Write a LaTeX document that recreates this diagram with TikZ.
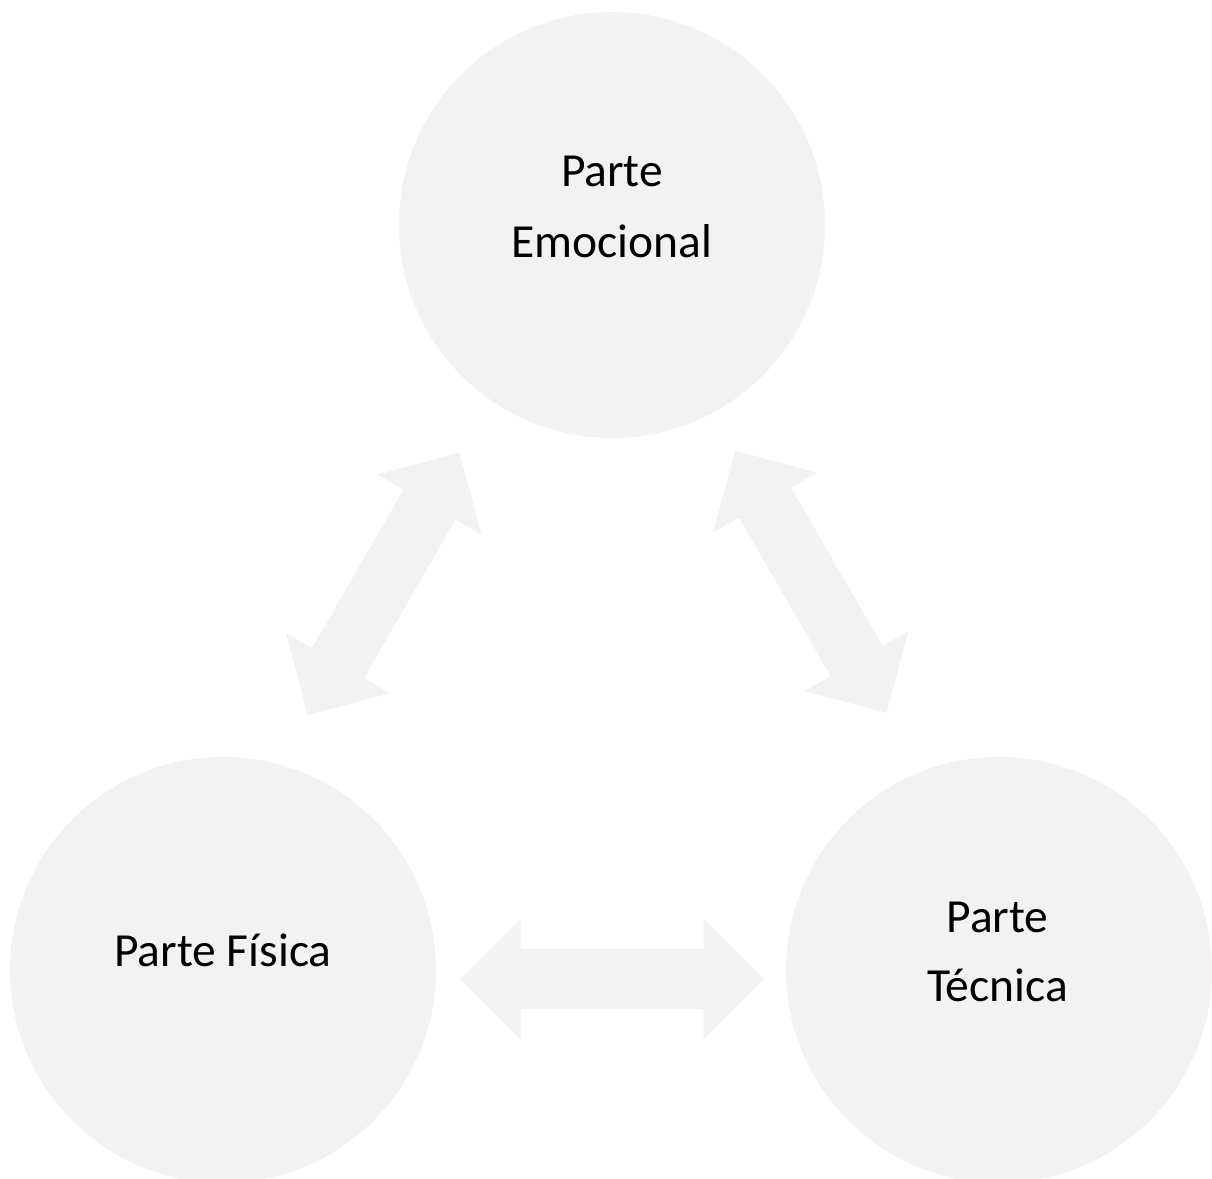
\documentclass[tikz,border=0pt]{standalone}
\usepackage{fontspec}
\setmainfont{Carlito}
\definecolor{shapegray}{HTML}{F2F2F2}
\begin{document}
\begin{tikzpicture}[x=1pt,y=1pt,
  blob/.style={circle, fill=shapegray, minimum size=426pt, inner sep=0pt},
  lbl/.style={anchor=base, font=\fontsize{47.5}{57}\selectfont, text=black, inner sep=0pt},
  dblarr/.pic={\fill[shapegray] (-151.5,0) -- (-91.5,60) -- (-91.5,30) -- (91.5,30) -- (91.5,60) -- (151.5,0) -- (91.5,-60) -- (91.5,-30) -- (-91.5,-30) -- (-91.5,-60) -- cycle;}]
\useasboundingbox (0,0) rectangle (1212,1178);
\clip (0,0) rectangle (1212,1178);
% circles
\node[blob] (emo) at (612,953) {};
\node[blob] (fis) at (223,208) {};
\node[blob] (tec) at (999,208) {};
% labels
\node[lbl] (emo1) at ([yshift=38.3pt]emo.center) {Parte};
\node[lbl] (emo2) at ([yshift=-32.3pt]emo.center) {Emocional};
\node[lbl] (fis1) at ([yshift=3.3pt]fis.center) {Parte Física};
\node[lbl] (tec1) at ([yshift=37.7pt,xshift=-1.5pt]tec.center) {Parte};
\node[lbl] (tec2) at ([yshift=-31.7pt,xshift=-1.5pt]tec.center) {Técnica};
% block arrows
\pic[rotate=60] at (383.7,594.1) {dblarr};
\pic[rotate=-60] at (810.8,596.2) {dblarr};
\pic at (612,199) {dblarr};
\end{tikzpicture}
\end{document}
